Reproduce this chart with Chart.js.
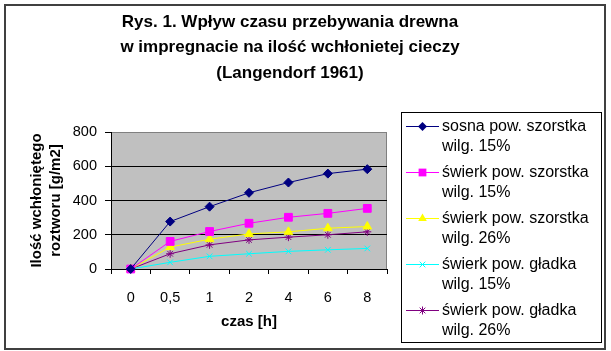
<!DOCTYPE html>
<html>
<head>
<meta charset="utf-8">
<script src="https://cdn.jsdelivr.net/npm/chart.js@4/dist/chart.umd.min.js"></script>
<style>
  html, body { margin: 0; padding: 0; background: #fff; }
  #wrap { width: 611px; height: 351px; }
</style>
</head>
<body>
<div id="wrap"><canvas id="chart" width="611" height="351"></canvas></div>
<script>
// Chart data
const titleLines = [
  "Rys. 1. Wpływ czasu przebywania drewna",
  "w impregnacie na ilość wchłonietej cieczy",
  "(Langendorf 1961)"
];
const timeLabels = ["0", "0,5", "1", "2", "4", "6", "8"];
const seriesNames = [
  ["sosna pow. szorstka", "wilg. 15%"],
  ["świerk pow. szorstka", "wilg. 15%"],
  ["świerk pow. szorstka", "wilg. 26%"],
  ["świerk pow. gładka", "wilg. 15%"],
  ["świerk pow. gładka", "wilg. 26%"]
];
const sosnaSzorstka15 = [0, 277, 364, 445, 505, 557, 583];
const swierkSzorstka15 = [0, 161, 219, 267, 302, 325, 354];
const swierkSzorstka26 = [0, 128, 174, 205, 217, 238, 248];
const swierkGladka15 = [0, 39, 74, 89, 103, 112, 120];
const swierkGladka26 = [0, 89, 141, 170, 186, 200, 217];
const yTicks = [0, 200, 400, 600, 800];

const FONT = "'Liberation Sans', Arial, sans-serif";
const colors = ["#000080", "#FF00FF", "#FFFF00", "#00FFFF", "#800080"];
const styles = ["rectRot", "rect", "triangle", "crossRot", "star"];
const radii = [4.5, 5.5, 5, 4, 4];
const values = [sosnaSzorstka15, swierkSzorstka15, swierkSzorstka26, swierkGladka15, swierkGladka26];

// draw a legend marker in the same style as the points
function drawMarker(ctx, style, x, y, r, color) {
  ctx.save();
  ctx.fillStyle = color;
  ctx.strokeStyle = color;
  ctx.lineWidth = 1;
  ctx.beginPath();
  if (style === "rectRot") {
    ctx.moveTo(x, y - r); ctx.lineTo(x + r, y); ctx.lineTo(x, y + r); ctx.lineTo(x - r, y);
    ctx.closePath(); ctx.fill();
  } else if (style === "rect") {
    const s = r * Math.SQRT1_2;
    ctx.rect(x - s, y - s, 2 * s, 2 * s); ctx.fill();
  } else if (style === "triangle") {
    ctx.moveTo(x, y - r); ctx.lineTo(x + r * 0.866, y + r / 2); ctx.lineTo(x - r * 0.866, y + r / 2);
    ctx.closePath(); ctx.fill();
  } else {
    const d = r * Math.SQRT1_2;
    ctx.moveTo(x - d, y - d); ctx.lineTo(x + d, y + d);
    ctx.moveTo(x + d, y - d); ctx.lineTo(x - d, y + d);
    if (style === "star") { ctx.moveTo(x, y - r); ctx.lineTo(x, y + r); }
    ctx.stroke();
  }
  ctx.restore();
}

const framePlugin = {
  id: "frame",
  beforeDraw(chart) {
    const { ctx, chartArea: a } = chart;
    ctx.save();
    ctx.fillStyle = "#ffffff";
    ctx.fillRect(0, 0, chart.width, chart.height);
    ctx.fillStyle = "#C0C0C0";
    ctx.fillRect(a.left, a.top, a.right - a.left, a.bottom - a.top);
    ctx.strokeStyle = "#808080";
    ctx.lineWidth = 1;
    ctx.strokeRect(a.left + 0.5, a.top + 0.5, a.right - a.left - 1, a.bottom - a.top);
    ctx.restore();
  },
  afterDraw(chart) {
    const { ctx } = chart;
    ctx.save();
    // title
    ctx.fillStyle = "#000";
    ctx.font = "bold 17px " + FONT;
    ctx.textAlign = "center";
    ctx.textBaseline = "middle";
    titleLines.forEach((t, i) => ctx.fillText(t, 290, 22 + i * 25.5));

    // legend
    ctx.strokeStyle = "#000";
    ctx.lineWidth = 1;
    ctx.strokeRect(401.5, 112.5, 200, 230);
    ctx.font = "16px " + FONT;
    ctx.textAlign = "left";
    chart.data.datasets.forEach((ds, i) => {
      const y = 126.5 + i * 46;
      ctx.strokeStyle = ds.borderColor;
      ctx.beginPath();
      ctx.moveTo(406, y);
      ctx.lineTo(439, y);
      ctx.stroke();
      drawMarker(ctx, ds.pointStyle, 422.5, y, ds.pointRadius, ds.borderColor);
      ctx.fillStyle = "#000";
      seriesNames[i].forEach((t, j) => ctx.fillText(t, 442, y + j * 20));
    });

    // outer frame
    ctx.strokeStyle = "#404040";
    ctx.lineWidth = 2;
    ctx.strokeRect(5, 5, 600, 344);
    ctx.restore();
  }
};

const datasets = values.map((v, i) => ({
  label: seriesNames[i].join(" "),
  data: v,
  borderColor: colors[i],
  backgroundColor: colors[i],
  borderWidth: 1,
  pointStyle: styles[i],
  pointRadius: radii[i],
  pointBorderWidth: 1,
  pointBorderColor: colors[i],
  pointBackgroundColor: colors[i],
  tension: 0,
  clip: false
}));

new Chart(document.getElementById("chart"), {
  type: "line",
  data: { labels: timeLabels, datasets: datasets },
  plugins: [framePlugin],
  options: {
    responsive: false,
    animation: false,
    events: [],
    layout: { padding: { left: 24, right: 224, top: 132, bottom: 20 } },
    plugins: { legend: { display: false }, title: { display: false }, tooltip: { enabled: false } },
    scales: {
      x: {
        offset: true,
        afterFit: (s) => { s.height = 62; },
        grid: { offset: true, drawOnChartArea: false, drawTicks: true, tickLength: 5, color: "#000" },
        border: { display: true, color: "#000", width: 1 },
        ticks: { color: "#000", padding: 15, maxRotation: 0, font: { family: FONT, size: 14.5 } },
        title: {
          display: true, text: "czas [h]", color: "#000",
          padding: { top: 0, bottom: 0 },
          font: { family: FONT, size: 15, weight: "bold" }
        }
      },
      y: {
        min: 0,
        max: 800,
        afterFit: (s) => { s.width = 87; },
        afterBuildTicks: (s) => { s.ticks = yTicks.map((v) => ({ value: v })); },
        grid: {
          drawTicks: true, tickLength: 6, tickColor: "#000",
          color: (c) => (c.tick && c.tick.value === 800 ? "#808080" : "#000")
        },
        border: { display: true, color: "#000", width: 1 },
        ticks: { color: "#000", padding: 8, font: { family: FONT, size: 14.5 } },
        title: {
          display: true, text: ["Ilość wchłoniętego", "roztworu [g/m2]"], color: "#000",
          padding: { top: 3.5, bottom: 0 },
          font: { family: FONT, size: 15, weight: "bold", lineHeight: 19 / 15 }
        }
      }
    }
  }
});
</script>
</body>
</html>
